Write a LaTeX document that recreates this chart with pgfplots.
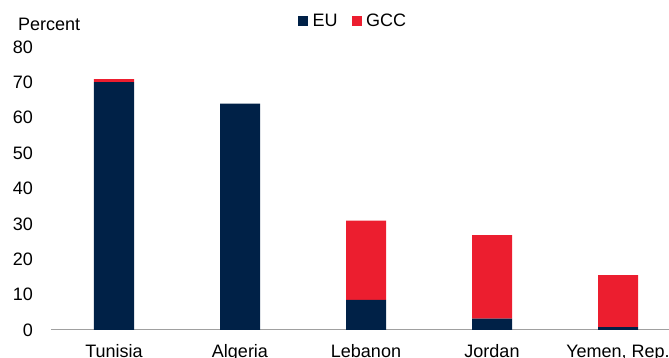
\documentclass[border=0pt]{standalone}
\usepackage{fontspec}
\setmainfont{Liberation Sans}
\usepackage{pgfplots}
\pgfplotsset{compat=1.18}
\definecolor{navy}{HTML}{002147}
\definecolor{gccred}{HTML}{EC1E2F}
\definecolor{axgray}{HTML}{A0A0A0}
\begin{document}
\begin{tikzpicture}[font=\fontsize{18pt}{21pt}\selectfont]
\begin{axis}[
  at={(0,0)}, anchor=south west,
  scale only axis, width=630pt, height=283pt,
  xmin=-0.5, xmax=4.5, ymin=0, ymax=80,
  ybar stacked, bar width=40pt,
  clip=false,
  separate axis lines,
  axis x line*=bottom, axis y line*=left,
  y axis line style={draw=none},
  x axis line style={draw=axgray, line width=1pt},
  major tick length=0pt,
  tick style={draw=none},
  ytick={0,10,...,80},
  xtick={0,1,2,3,4},
  xticklabels={Tunisia,Algeria,Lebanon,Jordan,{Yemen, Rep.}},
  /pgf/number format/assume math mode=true,
  yticklabel style={anchor=east, inner sep=0pt, xshift=-18pt},
  xticklabel style={anchor=base, inner sep=0pt, yshift=-27.5pt},
  legend style={at={(axis description cs:0.3921,1.0919)}, anchor=west,
    draw=none, fill=none, inner sep=0pt, legend columns=2,
    nodes={inner sep=0pt},
    /tikz/every odd column/.append style={column sep=4.5pt},
    /tikz/every even column/.append style={column sep=14pt}},
  legend cell align=left,
]
\addplot[fill=navy, draw=none, legend image code/.code={\fill[navy] (0pt,-5pt) rectangle (10pt,5pt);}]
  coordinates {(0,70.1) (1,64.0) (2,8.5) (3,3.2) (4,0.8)};
\addplot[fill=gccred, draw=none, legend image code/.code={\fill[gccred] (0pt,-5pt) rectangle (10pt,5pt);}]
  coordinates {(0,0.8) (1,0) (2,22.4) (3,23.6) (4,14.7)};
\legend{EU,GCC}
\end{axis}
\node[anchor=base west, inner sep=0pt] at (-33pt,299pt) {Percent};
\pgfresetboundingbox
\path[use as bounding box] (-51pt,-28pt) rectangle (618pt,330pt);
\end{tikzpicture}
\end{document}
